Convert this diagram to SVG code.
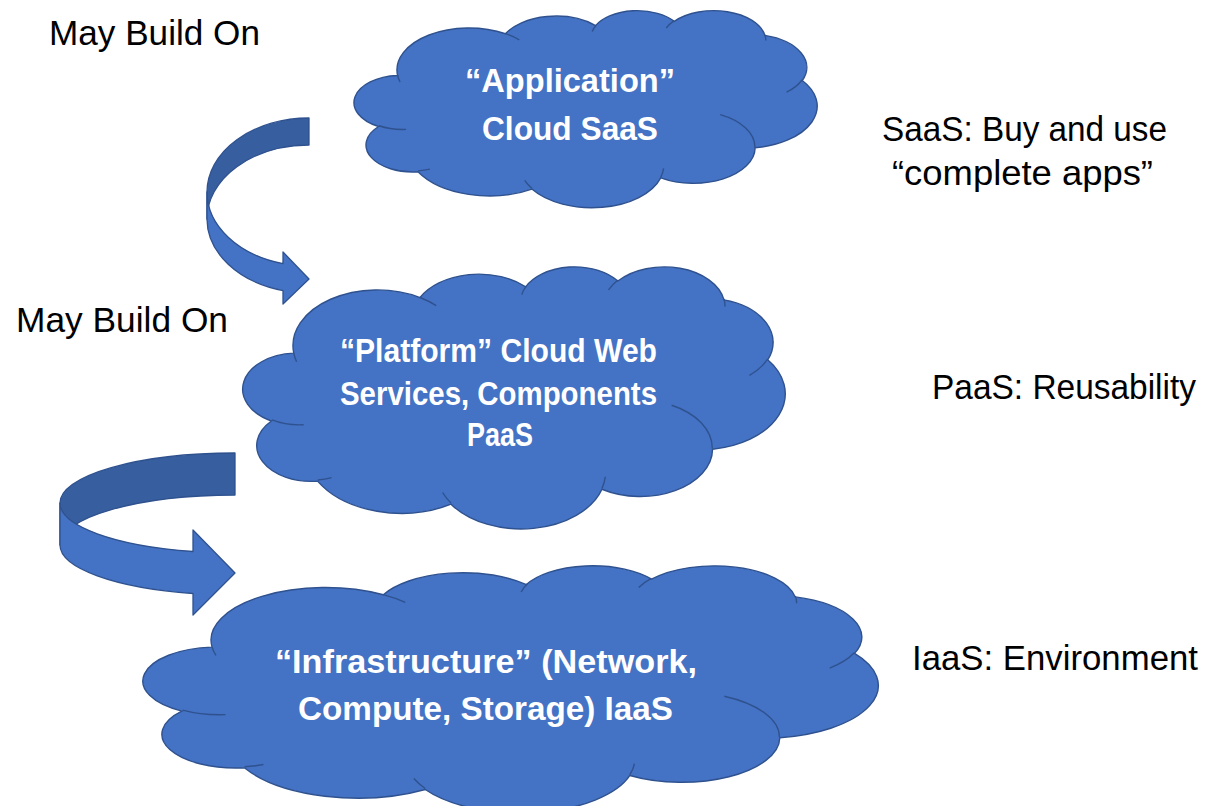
<svg xmlns="http://www.w3.org/2000/svg" xmlns:xlink="http://www.w3.org/1999/xlink" width="1206" height="806" viewBox="0 0 1206 806">
  <style>
    .cloud { fill: #4472C4; stroke: #2F528F; stroke-width: 1.4; vector-effect: non-scaling-stroke; }
    .seam { fill: none; stroke: #2F528F; stroke-width: 1.4; vector-effect: non-scaling-stroke; }
    .ctext { font-family: "Liberation Sans", Arial, sans-serif; font-weight: bold; font-size: 34px; fill: #FFFFFF; text-anchor: middle; }
    .label { font-family: "Liberation Sans", Arial, sans-serif; font-size: 35px; fill: #000000; }
    .back { fill: #375E9F; stroke: #2F528F; stroke-width: 1.3; stroke-linejoin: round; }
    .front { fill: #4472C4; stroke: #2F528F; stroke-width: 1.3; stroke-linejoin: round; }
  </style>
  <defs>
    <!-- cloud outline in a 43200 x 43200 box -->
    <path id="cloudShape" class="cloud" d="M3900,14370 A6753,9190 0 0 1 14005,5202 A5333,7267 0 0 1 22455,3433 A4365,5945 0 0 1 29833,2481 A4857,6595 0 0 1 38318,5576 A5333,7273 0 0 1 41818,15460 A6775,9220 0 0 1 37405,30204 A5785,7867 0 0 1 28556,36814 A6752,9215 0 0 1 16482,39268 A7720,10543 0 0 1 5807,35474 A4360,5918 0 0 1 2115,25552 A4345,5945 0 0 1 3900,14370 Z"/>
    <!-- inner bump seams -->
    <path id="cloudSeams" class="seam" d="M4693,26177 A4345,5945 0 0 1 2160,25380 M6928,34899 A4360,5918 0 0 1 5819,35281 M16478,39090 A6752,9215 0 0 1 15809,37348 M28827,34751 A6752,9215 0 0 1 28560,36660 M34129,22954 A5785,7867 0 0 1 37381,30090 M41798,15354 A5333,7273 0 0 1 40350,18031 M38324,5426 A4857,6595 0 0 1 38400,6690 M29078,3952 A4857,6595 0 0 1 29820,2340 M22141,4720 A4365,5945 0 0 1 22500,3331 M14000,5192 A6753,9190 0 0 1 15300,6540 M4127,15789 A6753,9190 0 0 1 3900,14371"/>
  </defs>

  <rect width="1206" height="806" fill="#FFFFFF"/>

  <!-- curved "builds on" arrows -->
  <g id="connectors">
    <g id="arrow-saas-paas">
      <path class="back" d="M309,118 A102,74 0 0 0 207,192 L207,219 A102,74 0 0 1 309,145 Z"/>
      <path class="front" d="M207,192 A102,74 0 0 0 283,263.6 L283,252 L309,279 L283,304 L283,290.6 A102,74 0 0 1 207,219 Z"/>
    </g>
    <g id="arrow-paas-iaas">
      <path class="back" d="M235,453 A175,50 0 0 0 60,503 L60,545 A175,50 0 0 1 235,495 Z"/>
      <path class="front" d="M60,503 A175,50 0 0 0 193,551.5 L193,530 L235,573 L193,615 L193,593.5 A175,50 0 0 1 60,545 Z"/>
    </g>
  </g>

  <g id="saas-cloud">
    <g transform="translate(356,10) scale(0.010671,0.0045602)">
      <use xlink:href="#cloudShape"/>
      <use xlink:href="#cloudSeams"/>
    </g>
    <text class="ctext" x="570" y="92" textLength="210" lengthAdjust="spacingAndGlyphs">“Application”</text>
    <text class="ctext" x="570" y="140" textLength="176" lengthAdjust="spacingAndGlyphs">Cloud SaaS</text>
  </g>

  <g id="paas-cloud">
    <g transform="translate(245,266) scale(0.0125,0.0060648)">
      <use xlink:href="#cloudShape"/>
      <use xlink:href="#cloudSeams"/>
    </g>
    <text class="ctext" x="498.5" y="362" textLength="317" lengthAdjust="spacingAndGlyphs">“Platform” Cloud Web</text>
    <text class="ctext" x="498.5" y="405" textLength="317" lengthAdjust="spacingAndGlyphs">Services, Components</text>
    <text class="ctext" x="500" y="446" textLength="66" lengthAdjust="spacingAndGlyphs">PaaS</text>
  </g>

  <g id="iaas-cloud">
    <g transform="translate(146,565) scale(0.016944,0.0057176)">
      <use xlink:href="#cloudShape"/>
      <use xlink:href="#cloudSeams"/>
    </g>
    <text class="ctext" x="486" y="673" textLength="422" lengthAdjust="spacingAndGlyphs">“Infrastructure” (Network,</text>
    <text class="ctext" x="485.5" y="720" textLength="375" lengthAdjust="spacingAndGlyphs">Compute, Storage) IaaS</text>
  </g>

  <g id="labels">
    <text class="label" x="49" y="45" textLength="211" lengthAdjust="spacingAndGlyphs">May Build On</text>
    <text class="label" x="16" y="332" textLength="212" lengthAdjust="spacingAndGlyphs">May Build On</text>
    <text class="label" x="882" y="141" textLength="285" lengthAdjust="spacingAndGlyphs">SaaS: Buy and use</text>
    <text class="label" x="892" y="185" textLength="261" lengthAdjust="spacingAndGlyphs">“complete apps”</text>
    <text class="label" x="932" y="399" textLength="264" lengthAdjust="spacingAndGlyphs">PaaS: Reusability</text>
    <text class="label" x="912" y="670" textLength="286" lengthAdjust="spacingAndGlyphs">IaaS: Environment</text>
  </g>
</svg>
